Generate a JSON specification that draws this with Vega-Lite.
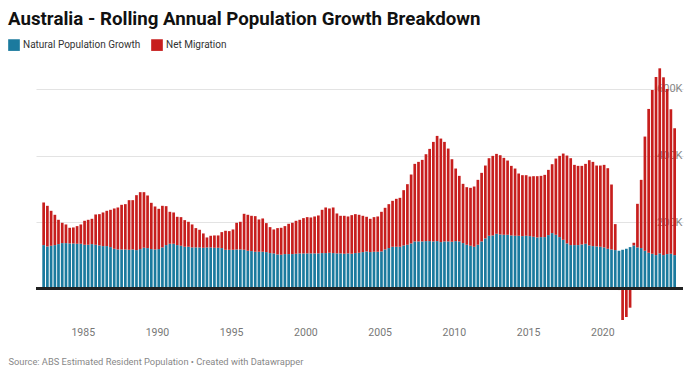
{
  "$schema": "https://vega.github.io/schema/vega-lite/v6.json",
  "width": 647,
  "height": 263,
  "autosize": "none",
  "padding": {"left": 36, "top": 59, "right": 7, "bottom": 55},
  "background": "white",
  "config": {
    "font": "Roboto",
    "view": {"stroke": null}
  },
  "title": {
    "text": "Australia - Rolling Annual Population Growth Breakdown",
    "anchor": "start",
    "frame": "group",
    "fontSize": 18.7,
    "fontWeight": "bold",
    "color": "#111111",
    "dx": -28,
    "offset": 10
  },
  "data": {
    "values": [
      {"d":"1982-05-15","natural":131,"migration":128},
      {"d":"1982-08-15","natural":127,"migration":122},
      {"d":"1982-11-15","natural":129,"migration":105},
      {"d":"1983-02-15","natural":131,"migration":91},
      {"d":"1983-05-15","natural":134,"migration":73},
      {"d":"1983-08-15","natural":137,"migration":61},
      {"d":"1983-11-15","natural":137,"migration":56},
      {"d":"1984-02-15","natural":136,"migration":47},
      {"d":"1984-05-15","natural":136,"migration":48},
      {"d":"1984-08-15","natural":135,"migration":53},
      {"d":"1984-11-15","natural":135,"migration":58},
      {"d":"1985-02-15","natural":132,"migration":72},
      {"d":"1985-05-15","natural":132,"migration":75},
      {"d":"1985-08-15","natural":134,"migration":76},
      {"d":"1985-11-15","natural":132,"migration":91},
      {"d":"1986-02-15","natural":130,"migration":94},
      {"d":"1986-05-15","natural":128,"migration":101},
      {"d":"1986-08-15","natural":128,"migration":106},
      {"d":"1986-11-15","natural":125,"migration":112},
      {"d":"1987-02-15","natural":120,"migration":121},
      {"d":"1987-05-15","natural":118,"migration":126},
      {"d":"1987-08-15","natural":118,"migration":134},
      {"d":"1987-11-15","natural":118,"migration":136},
      {"d":"1988-02-15","natural":117,"migration":149},
      {"d":"1988-05-15","natural":118,"migration":148},
      {"d":"1988-08-15","natural":116,"migration":165},
      {"d":"1988-11-15","natural":119,"migration":171},
      {"d":"1989-02-15","natural":123,"migration":167},
      {"d":"1989-05-15","natural":122,"migration":158},
      {"d":"1989-08-15","natural":119,"migration":139},
      {"d":"1989-11-15","natural":118,"migration":129},
      {"d":"1990-02-15","natural":119,"migration":121},
      {"d":"1990-05-15","natural":124,"migration":125},
      {"d":"1990-08-15","natural":131,"migration":117},
      {"d":"1990-11-15","natural":135,"migration":96},
      {"d":"1991-02-15","natural":135,"migration":94},
      {"d":"1991-05-15","natural":131,"migration":85},
      {"d":"1991-08-15","natural":129,"migration":86},
      {"d":"1991-11-15","natural":126,"migration":80},
      {"d":"1992-02-15","natural":126,"migration":75},
      {"d":"1992-05-15","natural":124,"migration":69},
      {"d":"1992-08-15","natural":124,"migration":58},
      {"d":"1992-11-15","natural":124,"migration":53},
      {"d":"1993-02-15","natural":123,"migration":43},
      {"d":"1993-05-15","natural":124,"migration":30},
      {"d":"1993-08-15","natural":124,"migration":35},
      {"d":"1993-11-15","natural":123,"migration":37},
      {"d":"1994-02-15","natural":123,"migration":37},
      {"d":"1994-05-15","natural":122,"migration":48},
      {"d":"1994-08-15","natural":117,"migration":57},
      {"d":"1994-11-15","natural":117,"migration":56},
      {"d":"1995-02-15","natural":117,"migration":61},
      {"d":"1995-05-15","natural":118,"migration":80},
      {"d":"1995-08-15","natural":118,"migration":83},
      {"d":"1995-11-15","natural":117,"migration":108},
      {"d":"1996-02-15","natural":114,"migration":108},
      {"d":"1996-05-15","natural":113,"migration":106},
      {"d":"1996-08-15","natural":111,"migration":107},
      {"d":"1996-11-15","natural":111,"migration":97},
      {"d":"1997-02-15","natural":111,"migration":100},
      {"d":"1997-05-15","natural":110,"migration":87},
      {"d":"1997-08-15","natural":107,"migration":78},
      {"d":"1997-11-15","natural":106,"migration":72},
      {"d":"1998-02-15","natural":103,"migration":79},
      {"d":"1998-05-15","natural":102,"migration":81},
      {"d":"1998-08-15","natural":104,"migration":84},
      {"d":"1998-11-15","natural":104,"migration":91},
      {"d":"1999-02-15","natural":104,"migration":94},
      {"d":"1999-05-15","natural":105,"migration":99},
      {"d":"1999-08-15","natural":106,"migration":101},
      {"d":"1999-11-15","natural":106,"migration":106},
      {"d":"2000-02-15","natural":106,"migration":109},
      {"d":"2000-05-15","natural":106,"migration":108},
      {"d":"2000-08-15","natural":106,"migration":111},
      {"d":"2000-11-15","natural":106,"migration":114},
      {"d":"2001-02-15","natural":107,"migration":130},
      {"d":"2001-05-15","natural":107,"migration":137},
      {"d":"2001-08-15","natural":108,"migration":133},
      {"d":"2001-11-15","natural":107,"migration":137},
      {"d":"2002-02-15","natural":106,"migration":120},
      {"d":"2002-05-15","natural":106,"migration":113},
      {"d":"2002-08-15","natural":105,"migration":114},
      {"d":"2002-11-15","natural":106,"migration":111},
      {"d":"2003-02-15","natural":105,"migration":116},
      {"d":"2003-05-15","natural":107,"migration":117},
      {"d":"2003-08-15","natural":108,"migration":114},
      {"d":"2003-11-15","natural":110,"migration":109},
      {"d":"2004-02-15","natural":112,"migration":104},
      {"d":"2004-05-15","natural":110,"migration":100},
      {"d":"2004-08-15","natural":111,"migration":104},
      {"d":"2004-11-15","natural":111,"migration":106},
      {"d":"2005-02-15","natural":112,"migration":119},
      {"d":"2005-05-15","natural":118,"migration":125},
      {"d":"2005-08-15","natural":122,"migration":132},
      {"d":"2005-11-15","natural":126,"migration":138},
      {"d":"2006-02-15","natural":126,"migration":144},
      {"d":"2006-05-15","natural":126,"migration":147},
      {"d":"2006-08-15","natural":130,"migration":166},
      {"d":"2006-11-15","natural":132,"migration":182},
      {"d":"2007-02-15","natural":136,"migration":207},
      {"d":"2007-05-15","natural":142,"migration":233},
      {"d":"2007-08-15","natural":142,"migration":239},
      {"d":"2007-11-15","natural":142,"migration":245},
      {"d":"2008-02-15","natural":143,"migration":261},
      {"d":"2008-05-15","natural":143,"migration":277},
      {"d":"2008-08-15","natural":142,"migration":299},
      {"d":"2008-11-15","natural":143,"migration":316},
      {"d":"2009-02-15","natural":140,"migration":311},
      {"d":"2009-05-15","natural":142,"migration":299},
      {"d":"2009-08-15","natural":142,"migration":279},
      {"d":"2009-11-15","natural":141,"migration":248},
      {"d":"2010-02-15","natural":143,"migration":218},
      {"d":"2010-05-15","natural":142,"migration":197},
      {"d":"2010-08-15","natural":137,"migration":178},
      {"d":"2010-11-15","natural":132,"migration":173},
      {"d":"2011-02-15","natural":129,"migration":174},
      {"d":"2011-05-15","natural":126,"migration":181},
      {"d":"2011-08-15","natural":132,"migration":195},
      {"d":"2011-11-15","natural":142,"migration":206},
      {"d":"2012-02-15","natural":151,"migration":219},
      {"d":"2012-05-15","natural":159,"migration":233},
      {"d":"2012-08-15","natural":160,"migration":239},
      {"d":"2012-11-15","natural":165,"migration":240},
      {"d":"2013-02-15","natural":163,"migration":238},
      {"d":"2013-05-15","natural":162,"migration":231},
      {"d":"2013-08-15","natural":162,"migration":223},
      {"d":"2013-11-15","natural":160,"migration":209},
      {"d":"2014-02-15","natural":159,"migration":202},
      {"d":"2014-05-15","natural":159,"migration":187},
      {"d":"2014-08-15","natural":158,"migration":183},
      {"d":"2014-11-15","natural":159,"migration":182},
      {"d":"2015-02-15","natural":158,"migration":179},
      {"d":"2015-05-15","natural":156,"migration":182},
      {"d":"2015-08-15","natural":154,"migration":184},
      {"d":"2015-11-15","natural":155,"migration":184},
      {"d":"2016-02-15","natural":155,"migration":187},
      {"d":"2016-05-15","natural":161,"migration":196},
      {"d":"2016-08-15","natural":167,"migration":207},
      {"d":"2016-11-15","natural":162,"migration":229},
      {"d":"2017-02-15","natural":155,"migration":244},
      {"d":"2017-05-15","natural":147,"migration":259},
      {"d":"2017-08-15","natural":136,"migration":264},
      {"d":"2017-11-15","natural":131,"migration":261},
      {"d":"2018-02-15","natural":131,"migration":241},
      {"d":"2018-05-15","natural":131,"migration":238},
      {"d":"2018-08-15","natural":133,"migration":236},
      {"d":"2018-11-15","natural":135,"migration":240},
      {"d":"2019-02-15","natural":130,"migration":256},
      {"d":"2019-05-15","natural":128,"migration":253},
      {"d":"2019-08-15","natural":127,"migration":243},
      {"d":"2019-11-15","natural":126,"migration":244},
      {"d":"2020-02-15","natural":124,"migration":248},
      {"d":"2020-05-15","natural":120,"migration":242},
      {"d":"2020-08-15","natural":118,"migration":195},
      {"d":"2020-11-15","natural":116,"migration":78},
      {"d":"2021-02-15","natural":114,"migration":-4},
      {"d":"2021-05-15","natural":117,"migration":-94},
      {"d":"2021-08-15","natural":120,"migration":-85},
      {"d":"2021-11-15","natural":125,"migration":-57},
      {"d":"2022-02-15","natural":130,"migration":8},
      {"d":"2022-05-15","natural":124,"migration":131},
      {"d":"2022-08-15","natural":122,"migration":205},
      {"d":"2022-11-15","natural":114,"migration":343},
      {"d":"2023-02-15","natural":108,"migration":432},
      {"d":"2023-05-15","natural":105,"migration":492},
      {"d":"2023-08-15","natural":101,"migration":535},
      {"d":"2023-11-15","natural":106,"migration":556},
      {"d":"2024-02-15","natural":101,"migration":534},
      {"d":"2024-05-15","natural":104,"migration":496},
      {"d":"2024-08-15","natural":105,"migration":434},
      {"d":"2024-11-15","natural":101,"migration":381}
    ]
  },
  "layer": [
    {
      "transform": [{"fold": ["natural", "migration"], "as": ["series", "value"]}],
      "mark": {"type": "bar", "width": 2.7},
      "encoding": {
        "x": {
          "field": "d",
          "type": "temporal",
          "scale": {"domain": [{"year": 1982, "month": 3, "date": 11, "utc": true}, {"year": 2025, "month": 2, "date": 6, "utc": true}]},
          "axis": {
            "format": "%Y",
            "tickCount": {"interval": "year", "step": 5},
            "labelExpr": "year(datum.value) < 2025 ? timeFormat(datum.value, '%Y') : ''",
            "domain": false,
            "ticks": false,
            "grid": false,
            "labelColor": "#777777",
            "labelFontSize": 10.5,
            "labelPadding": 5,
            "title": "Source: ABS Estimated Resident Population • Created with Datawrapper",
            "titleX": -28,
            "titleY": 35,
            "titleAlign": "left",
            "titleBaseline": "top",
            "titleFontWeight": "normal",
            "titleFontSize": 9.3,
            "titleColor": "#888888"
          }
        },
        "y": {
          "field": "value",
          "type": "quantitative",
          "stack": "zero",
          "scale": {"domain": [-100, 690], "nice": false, "zero": true},
          "axis": {
            "orient": "right",
            "values": [200, 400, 600],
            "labelExpr": "datum.value + 'K'",
            "labelAlign": "right",
            "labelPadding": -1,
            "labelBaseline": "middle",
            "labelColor": "#888888",
            "labelFontSize": 11,
            "domain": false,
            "ticks": false,
            "gridColor": "#e3e3e3",
            "gridWidth": 1,
            "title": null
          }
        },
        "color": {
          "field": "series",
          "type": "nominal",
          "scale": {"domain": ["natural", "migration"], "range": ["#1b7a9e", "#c71e1d"]},
          "legend": {
            "orient": "none",
            "legendX": -28,
            "legendY": -20,
            "direction": "horizontal",
            "title": null,
            "symbolType": "square",
            "symbolSize": 136,
            "symbolStrokeWidth": 0,
            "symbolOpacity": 1,
            "labelFontSize": 10,
            "labelColor": "#333333",
            "labelExpr": "datum.label == 'natural' ? 'Natural Population Growth' : 'Net Migration'",
            "columnPadding": 10,
            "labelOffset": 3
          }
        },
        "order": {"field": "series", "sort": "descending"}
      }
    },
    {
      "mark": {"type": "rule", "color": "#222222", "strokeWidth": 2},
      "encoding": {"y": {"datum": 0}}
    }
  ]
}
